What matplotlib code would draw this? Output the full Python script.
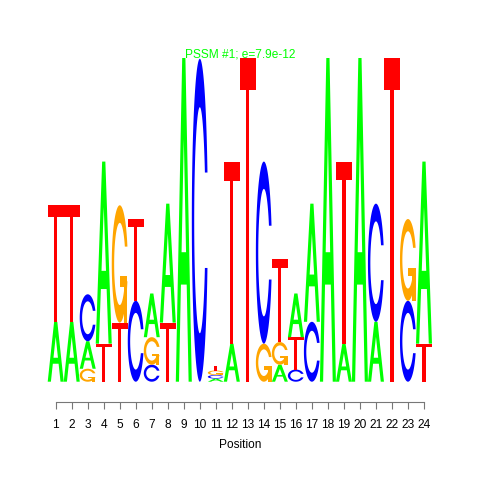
import numpy as np
import matplotlib
matplotlib.use("Agg")
import matplotlib.pyplot as plt
from matplotlib.patches import Polygon

plt.rcParams['font.family'] = ['Liberation Sans', 'DejaVu Sans']

positions = list(range(1, 25))
bits_A = [0.37, 0.37, 0.17, 1.125, 0, 0, 0.27, 0.735, 2.0, 0, 0.019, 0.235,
          0, 0, 0.105, 0.27, 0.73, 2.0, 0.235, 2.0, 0.37, 0, 0, 1.125]
bits_C = [0, 0, 0.29, 0, 0, 0.50, 0.105, 0, 0, 1.995, 0.022, 0,
          0, 1.125, 0, 0.075, 0.37, 0, 0, 0, 0.73, 0, 0.50, 0]
bits_G = [0, 0, 0.08, 0, 0.725, 0, 0.17, 0, 0, 0, 0.028, 0,
          0, 0.235, 0.14, 0, 0, 0, 0, 0, 0, 0, 0.505, 0]
bits_T = [0.72, 0.72, 0, 0.235, 0.365, 0.505, 0, 0.365, 0, 0, 0.031, 1.12,
          2.0, 0, 0.51, 0.2, 0, 0, 1.125, 0, 0, 2.0, 0, 0.235]
title = "PSSM #1; e=7.9e-12"

colors = {'A': '#00FF00', 'C': '#0000FF', 'G': '#FFA500', 'T': '#FF0000'}


# letter outlines in a unit box (same shapes as the R seqLogo package)
def ring():
    a1 = np.linspace(0.3 + np.pi / 2, np.pi, 100)
    a2 = np.linspace(np.pi, 1.5 * np.pi, 100)
    xl1, yl1 = 0.5 + 0.5 * np.sin(a1), 0.5 + 0.5 * np.cos(a1)
    xl2, yl2 = 0.5 + 0.5 * np.sin(a2), 0.5 + 0.5 * np.cos(a2)
    xl = np.concatenate([xl1, xl2])
    yl = np.concatenate([yl1, yl2])
    x = np.concatenate([xl, xl[::-1]])
    y = np.concatenate([yl, 1 - yl[::-1]])
    xi1, yi1 = 0.5 + 0.35 * np.sin(a1), 0.5 + 0.35 * np.cos(a1)
    keep = yi1 <= yl1.max()
    xi1, yi1 = xi1[keep], yi1[keep]
    yi1[0] = yl1.max()
    xi2, yi2 = 0.5 + 0.35 * np.sin(a2), 0.5 + 0.35 * np.cos(a2)
    xi = np.concatenate([xi1, xi2])
    yi = np.concatenate([yi1, yi2])
    x1 = np.concatenate([xi, xi[::-1]])
    y1 = np.concatenate([yi, 1 - yi[::-1]])
    x = np.concatenate([x, x1[::-1]])
    y = np.concatenate([y, y1[::-1]])
    return x, y, xl1.max()


def letter_shapes(base):
    if base == 'A':
        outer = (np.array([0, 4, 6, 10, 8, 6.8, 3.2, 2, 0]) * 0.1,
                 np.array([0, 10, 10, 0, 0, 3, 3, 0, 0]) * 0.1)
        inner = (np.array([3.6, 5, 6.4, 3.6]) * 0.1,
                 np.array([4, 7.5, 4, 4]) * 0.1)
        return [(outer, colors['A']), (inner, 'white')]
    if base == 'T':
        return [((np.array([0, 10, 10, 6, 6, 4, 4, 0]) * 0.1,
                  np.array([10, 10, 9, 9, 0, 0, 9, 9]) * 0.1), colors['T'])]
    x, y, r1 = ring()
    if base == 'C':
        return [((x, y), colors['C'])]
    h1 = 0.4
    xa = np.array([r1, 0.5, 0.5, r1 - 0.2, r1 - 0.2, r1, r1])
    ya = np.array([h1, h1, h1 - 0.1, h1 - 0.1, 0, 0, h1])
    return [((x, y), colors['G']), ((xa, ya), colors['G'])]


fig = plt.figure(figsize=(4.8, 4.8), dpi=100)
ax = fig.add_axes([39.7 / 480, 1 - 401.7 / 480, 400.3 / 480, 351.8 / 480])

for i, pos in enumerate(positions):
    col = {'A': bits_A[i], 'C': bits_C[i], 'G': bits_G[i], 'T': bits_T[i]}
    y0 = 0.0
    for base, h in sorted(col.items(), key=lambda kv: kv[1]):
        if h <= 0:
            continue
        for (px, py), fc in letter_shapes(base):
            xy = np.column_stack([pos - 0.5 + px, y0 + h * py])
            ax.add_patch(Polygon(xy, closed=True, facecolor=fc,
                                 edgecolor='none', antialiased=True))
        y0 += h

ax.set_xlim(0, 25)
ax.set_ylim(-0.1236, 2.05)
for s in ['top', 'right', 'left']:
    ax.spines[s].set_visible(False)
ax.spines['bottom'].set_bounds(1, 24)
ax.spines['bottom'].set_color('#777777')
ax.spines['bottom'].set_linewidth(0.8)
ax.set_xticks(positions)
ax.set_xticklabels([str(p) for p in positions])
ax.tick_params(axis='x', length=4.8, width=0.8, color='#777777',
               labelsize=8.6, pad=7.5)
ax.set_yticks([])

fig.text(240 / 480, 1 - 445 / 480, "Position", ha='center', va='center',
         fontsize=8.6)
fig.text(240 / 480, 1 - 57.7 / 480, title, ha='center', va='baseline',
         fontsize=8.6, color='#00FF00')

fig.savefig("out.png", dpi=100)
